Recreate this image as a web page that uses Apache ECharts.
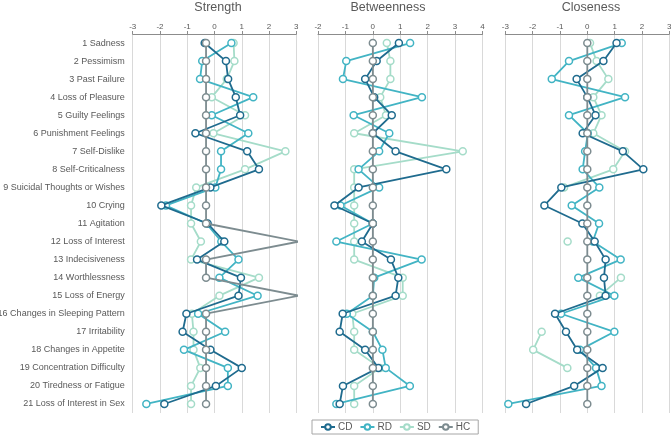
<!DOCTYPE html>
<html><head><meta charset="utf-8">
<script src="https://cdn.jsdelivr.net/npm/echarts@6/dist/echarts.min.js"></script>
<style>html,body{margin:0;padding:0;background:#fff}#c{width:671px;height:435px}</style>
</head><body><div id="c"></div>
<script>
const categories = ["1 Sadness","2 Pessimism","3 Past Failure","4 Loss of Pleasure","5 Guilty Feelings","6 Punishment Feelings","7 Self-Dislike","8 Self-Criticalness","9 Suicidal Thoughts or Wishes","10 Crying","11 Agitation","12 Loss of Interest","13 Indecisiveness","14 Worthlessness","15 Loss of Energy","16 Changes in Sleeping Pattern","17 Irritability","18 Changes in Appetite","19 Concentration Difficulty","20 Tiredness or Fatigue","21 Loss of Interest in Sex"];
const groups = ["CD","RD","SD","HC"];
const panelTitles = ["Strength","Betweenness","Closeness"];
const strengthTicks = [-3,3];
const betweennessTicks = [-2,4];
const closenessTicks = [-3,3];

const strengthCD = [-0.36,0.42,0.5,0.78,0.94,-0.7,1.2,1.63,-0.15,-1.95,-0.25,0.36,-0.64,0.97,0.88,-1.03,-1.17,-0.15,1.0,0.05,-1.84];
const strengthRD = [0.62,-0.45,-0.53,1.42,-0.1,1.24,0.24,0.24,0.03,-1.78,-0.3,0.25,0.88,0.18,1.58,-0.6,0.39,-1.12,0.49,0.49,-2.5];
const strengthSD = [0.7,0.73,0.45,-0.1,1.12,-0.04,2.6,1.12,-0.67,-0.86,-0.86,-0.5,-0.86,1.63,0.18,-0.83,-0.77,-0.77,-0.52,-0.86,-0.86];
const strengthHC = [-0.31,-0.31,-0.31,-0.31,-0.31,-0.31,-0.31,-0.31,-0.31,-0.31,-0.31,3.1,-0.31,-0.31,3.1,-0.31,-0.31,-0.31,-0.31,-0.31,-0.31];

const betweennessCD = [0.95,0.14,-0.28,0.05,0.69,0.0,0.83,2.68,-0.52,-1.4,0.0,-0.4,0.66,0.93,0.83,-1.1,-1.21,-0.28,0.2,-1.09,-1.21];
const betweennessRD = [1.36,-0.97,-1.09,1.79,-0.7,0.6,0.23,-0.52,0.23,-1.18,0.0,-1.33,1.78,0.05,0.0,-0.95,0.0,0.35,0.47,1.35,-1.33];
const betweennessSD = [0.51,0.64,0.64,0.27,0.48,-0.68,3.28,-0.68,-0.68,-0.68,-0.68,-0.68,-0.68,1.09,1.09,-0.75,-0.68,-0.68,0.27,-0.68,-0.68];
const betweennessHC = [0,0,0,0,0,0,0,0,0,0,0,0,0,0,0,0,0,0,0,0,0];

const closenessCD = [1.07,0.59,-0.39,0.0,0.3,-0.17,1.3,2.05,-0.95,-1.57,-0.18,0.27,0.67,0.61,0.67,-1.18,-0.78,-0.37,0.56,-0.48,-2.24];
const closenessRD = [1.26,-0.67,-1.3,1.38,-0.67,0.02,-0.08,-0.17,0.44,-0.57,0.43,0.2,1.22,-0.33,0.99,-0.96,0.99,-0.27,0.32,0.52,-2.89];
const closenessSD = [0.1,0.34,0.77,0.22,0.52,0.22,1.38,0.95,-0.85,null,null,-0.72,null,1.23,0.46,null,-1.67,-1.98,-0.73,null,null];
const closenessHC = [0,0,0,0,0,0,0,0,0,0,0,0,0,0,0,0,0,0,0,0,0];

const colors = {CD:"#1f6b8e", RD:"#42b4c4", SD:"#a5dcc9", HC:"#7d8c90"};
const panelData = [
  {CD:strengthCD,RD:strengthRD,SD:strengthSD,HC:strengthHC},
  {CD:betweennessCD,RD:betweennessRD,SD:betweennessSD,HC:betweennessHC},
  {CD:closenessCD,RD:closenessRD,SD:closenessSD,HC:closenessHC}
];
const ranges = [strengthTicks,betweennessTicks,closenessTicks];
const grids = [
  {left:132.7, top:34, width:163.6, height:379, outerBoundsMode:'none', containLabel:false},
  {left:318, top:34, width:164.5, height:379, outerBoundsMode:'none', containLabel:false},
  {left:505.3, top:34, width:164, height:379, outerBoundsMode:'none', containLabel:false}
];
const titleX = [218, 388, 591];
const font = "Arial, 'Liberation Sans', sans-serif";

const series = [];
const zOrder = {SD:1, RD:2, CD:3, HC:4};
panelData.forEach((pd, i) => {
  groups.forEach(g => {
    series.push({
      name: g, type: 'line', xAxisIndex: i, yAxisIndex: i,
      data: pd[g], symbol: 'circle', symbolSize: 7, showAllSymbol: true,
      connectNulls: false, clip: true, z: zOrder[g],
      color: colors[g],
      lineStyle: {color: colors[g], width: 1.8},
      itemStyle: {color: '#fff', borderColor: colors[g], borderWidth: 1.5},
      emphasis: {disabled: true}, animation: false
    });
  });
});

const chart = echarts.init(document.getElementById('c'), null, {renderer:'canvas'});
chart.setOption({
  animation: false,
  textStyle: {fontFamily: font},
  title: panelTitles.map((t,i) => ({text: t, left: titleX[i], top: 1, textAlign: 'center', padding: 0,
    textStyle: {fontSize: 12.5, fontWeight: 'normal', color: '#595959', fontFamily: font}})),
  legend: {
    data: groups, bottom: 1, left: 312, itemWidth: 14, itemHeight: 7, itemGap: 7,
    borderColor: '#a6a6a6', borderWidth: 1, padding: [2, 8, 2, 8],
    textStyle: {fontSize: 10, color: '#595959', fontFamily: font, padding: [0, 0, 0, -2]}
  },
  grid: grids,
  xAxis: ranges.map((r,i) => ({
    type: 'value', gridIndex: i, position: 'top', min: r[0], max: r[1], interval: 1,
    axisLine: {show: true, lineStyle: {color: '#8c8c8c', width: 1}},
    axisTick: {show: true, length: 3, lineStyle: {color: '#8c8c8c'}},
    axisLabel: {fontSize: 8, color: '#595959', margin: 3, fontFamily: font},
    splitLine: {show: true, lineStyle: {color: '#d9d9d9', width: 1}}
  })),
  yAxis: [0,1,2].map(i => ({
    type: 'category', gridIndex: i, inverse: true, data: categories,
    axisLine: {show: false}, axisTick: {show: false},
    axisLabel: {show: i === 0, fontSize: 9, color: '#595959', margin: 8, fontFamily: font},
    splitLine: {show: false}
  })),
  series: series
});
</script></body></html>
